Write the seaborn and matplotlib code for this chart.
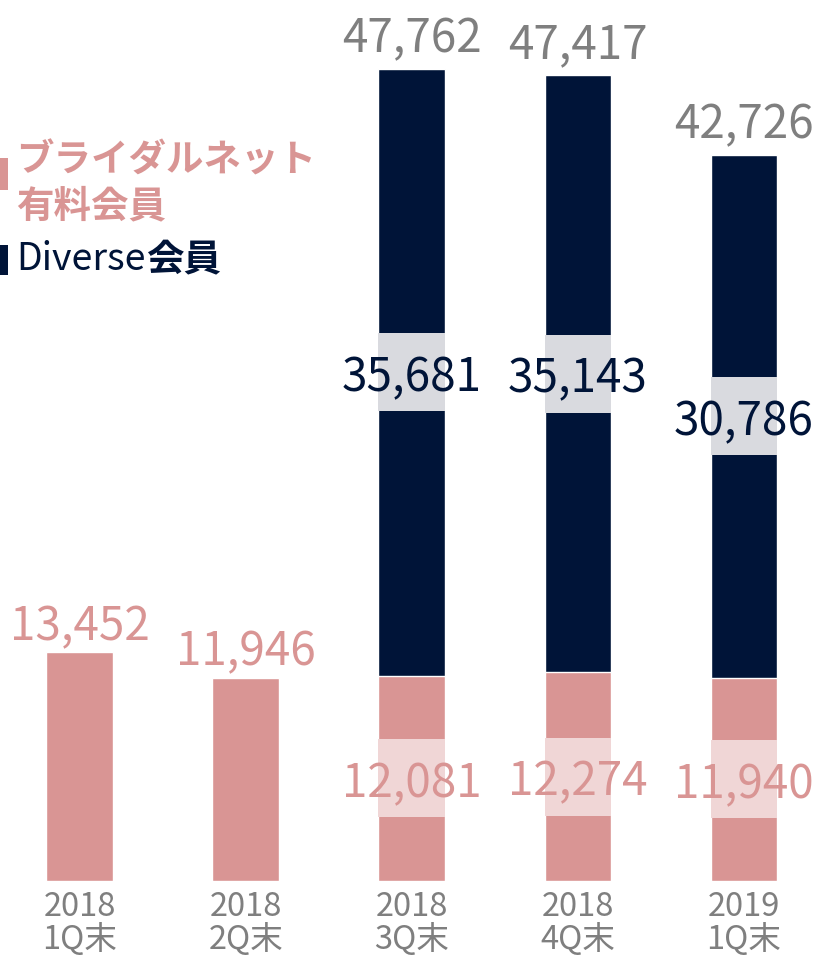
import pandas as pd
import matplotlib
matplotlib.use("Agg")
import matplotlib.pyplot as plt
import seaborn as sns
from matplotlib.patches import Rectangle

# ---- data ----
periods = ["2018\n1Q末", "2018\n2Q末", "2018\n3Q末", "2018\n4Q末", "2019\n1Q末"]
bridal_paid = [13452, 11946, 12081, 12274, 11940]   # ブライダルネット有料会員
diverse = [0, 0, 35681, 35143, 30786]               # Diverse会員

PINK = "#D99594"
NAVY = "#001438"
GRAY_TXT = "#7F7F7F"
PINK_BOX = "#F0D6D6"
NAVY_BOX = "#D9DADF"

sns.set_theme(style="white")
plt.rcParams["font.family"] = ["Noto Sans CJK JP", "DejaVu Sans"]

df = pd.DataFrame({"period": periods, "bridal": bridal_paid, "diverse": diverse})
df["total"] = df["bridal"] + df["diverse"]

W, H, DPI = 8.4, 9.56, 100
fig = plt.figure(figsize=(W, H), dpi=DPI)
ax_h = 0.9215
ax = fig.add_axes([0, 1 - ax_h, 1, ax_h])

sns.barplot(data=df, x="period", y="total", color=NAVY, width=0.4,
            saturation=1, errorbar=None, ax=ax)
sns.barplot(data=df, x="period", y="bridal", color=PINK, width=0.4,
            saturation=1, errorbar=None, ax=ax)

ax.set_ylim(0, df["total"].max() * 1.085)
ax.set_xlim(-0.48, 4.58)
per_px = ax.get_ylim()[1] / (H * DPI * ax_h)

num_fs = 33
for i, row in df.iterrows():
    if row["diverse"] == 0:
        ax.annotate(f"{row['bridal']:,}", (i, row["bridal"]), xytext=(0, 1),
                    textcoords="offset points", ha="center", va="bottom",
                    color=PINK, fontsize=num_fs)
        continue
    # total above the stack
    ax.annotate(f"{row['total']:,}", (i, row["total"]), xytext=(0, 4),
                textcoords="offset points", ha="center", va="bottom",
                color=GRAY_TXT, fontsize=num_fs)
    # Diverse label, middle of navy segment
    y_n = row["bridal"] + row["diverse"] / 2
    box_h = 78 * per_px
    ax.add_patch(Rectangle((i - 0.2, y_n - box_h / 2), 0.4, box_h,
                           color=NAVY_BOX, zorder=3, lw=0))
    ax.text(i, y_n, f"{row['diverse']:,}", ha="center", va="center_baseline",
            color=NAVY, fontsize=num_fs, zorder=4)
    # paid member label, middle of pink segment
    y_p = row["bridal"] / 2
    ax.add_patch(Rectangle((i - 0.2, y_p - box_h / 2), 0.4, box_h,
                           color=PINK_BOX, zorder=3, lw=0))
    ax.text(i, y_p, f"{row['bridal']:,}", ha="center", va="center_baseline",
            color=PINK, fontsize=num_fs, zorder=4)

ax.set_xlabel("")
ax.set_ylabel("")
ax.set_yticks([])
ax.tick_params(axis="x", length=0, pad=7, labelsize=23.5, labelcolor=GRAY_TXT)
for lab in ax.get_xticklabels():
    lab.set_linespacing(1.0)
sns.despine(ax=ax, left=True, bottom=True)

# ---- legend (hand drawn) ----
def fy(px):
    return 1 - px / (H * DPI)

def fx(px):
    return px / (W * DPI)

fig.patches.append(Rectangle((0, fy(190)), fx(8), 32 / (H * DPI),
                             transform=fig.transFigure, color=PINK, lw=0))
fig.patches.append(Rectangle((0, fy(275)), fx(8), 30 / (H * DPI),
                             transform=fig.transFigure, color=NAVY, lw=0))
fig.text(fx(16), fy(160), "ブライダルネット", fontsize=27, fontweight="bold",
         color=PINK, va="center", ha="left")
fig.text(fx(16), fy(206), "有料会員", fontsize=27, fontweight="bold",
         color=PINK, va="center", ha="left")
fig.text(fx(16), fy(260), "Diverse", fontsize=27, color=NAVY,
         va="center", ha="left")
fig.text(fx(146), fy(260), "会員", fontsize=27, fontweight="bold",
         color=NAVY, va="center", ha="left")

fig.savefig("out.png", dpi=DPI)
